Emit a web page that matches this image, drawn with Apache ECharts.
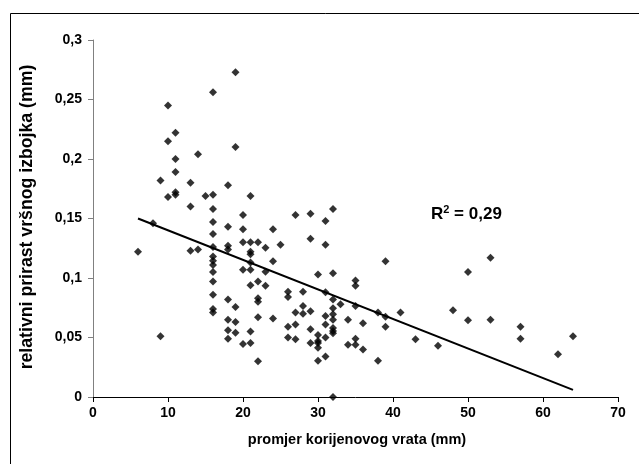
<!DOCTYPE html>
<html>
<head>
<meta charset="utf-8">
<script src="https://cdn.jsdelivr.net/npm/echarts@6/dist/echarts.min.js"></script>
<style>html,body{margin:0;padding:0;background:#fff;}#c{width:639px;height:464px;}</style>
</head>
<body>
<div id="c"></div>
<script>
const xTicks = [0, 10, 20, 30, 40, 50, 60, 70];
const yTicks = ['0', '0,05', '0,1', '0,15', '0,2', '0,25', '0,3'];
const xValues = [
  6, 8, 9, 9, 10, 10, 10,
  11, 11, 11, 11, 11,
  13, 13, 13, 14, 14, 15,
  16, 16, 16, 16, 16, 16, 16, 16, 16, 16, 16, 16, 16, 16,
  18, 18, 18, 18, 18, 18, 18, 18,
  19, 19, 19, 19, 19,
  20, 20, 20, 20, 20,
  21, 21, 21, 21, 21, 21, 21, 21, 21,
  22, 22, 22, 22, 22, 22,
  23, 23, 23,
  24, 24, 24,
  25,
  26, 26, 26, 26,
  27, 27, 27, 27,
  28, 28, 28,
  29, 29, 29, 29, 29,
  30, 30, 30, 30, 30, 30,
  31, 31, 31, 31, 31, 31, 31,
  32, 32, 32, 32, 32, 32, 32, 32, 32, 32,
  33, 34, 34,
  35, 35, 35, 35, 35,
  36, 36, 38, 38,
  39, 39, 39,
  41, 43, 46, 48, 50, 50, 53, 53, 57, 57, 62, 64
];
const yValues = [
  0.122, 0.146, 0.182, 0.051, 0.245, 0.215, 0.168,
  0.222, 0.2, 0.189, 0.172, 0.17,
  0.18, 0.16, 0.123, 0.204, 0.124, 0.169,
  0.256, 0.17, 0.158, 0.147, 0.137, 0.126, 0.118, 0.1145, 0.111, 0.105, 0.097, 0.086, 0.074, 0.071,
  0.178, 0.143, 0.127, 0.124, 0.082, 0.065, 0.056, 0.049,
  0.273, 0.21, 0.0756, 0.063, 0.054,
  0.153, 0.141, 0.13, 0.107, 0.0445,
  0.169, 0.13, 0.122, 0.12, 0.113, 0.107, 0.094, 0.055, 0.0454,
  0.13, 0.097, 0.083, 0.08, 0.067, 0.03,
  0.1255, 0.1053, 0.0935,
  0.141, 0.114, 0.066,
  0.128,
  0.0885, 0.084, 0.059, 0.05,
  0.153, 0.071, 0.061, 0.0485,
  0.0885, 0.0765, 0.07,
  0.154, 0.133, 0.072, 0.057, 0.0454,
  0.103, 0.052, 0.047, 0.0454, 0.0414, 0.0305,
  0.148, 0.128, 0.088, 0.068, 0.061, 0.05, 0.034,
  0.158, 0.104, 0.082, 0.0745, 0.0695, 0.065, 0.058, 0.0555, 0.0535, 0,
  0.078, 0.065, 0.044,
  0.098, 0.0935, 0.0765, 0.049, 0.044,
  0.062, 0.04, 0.071, 0.0305,
  0.114, 0.0675, 0.059,
  0.071, 0.0485, 0.043, 0.073, 0.105, 0.0645, 0.117, 0.065, 0.059, 0.049, 0.036, 0.051
];
const trendX = [6, 64];
const trendY = [0.150, 0.006];
const xTitle = 'promjer korijenovog vrata (mm)';
const yTitle = 'relativni prirast vršnog izbojka (mm)';

const points = xValues.map((x, i) => [x, yValues[i]]);
const trend = trendX.map((x, i) => [x, trendY[i]]);
const font = 'Liberation Sans, Arial, sans-serif';

const chart = echarts.init(document.getElementById('c'), null, {renderer: 'canvas'});
chart.setOption({
  animation: false,
  backgroundColor: '#fff',
  grid: {left: 93, right: 21, top: 40, bottom: 67, containLabel: false},
  xAxis: {
    type: 'value', min: 0, max: 70, interval: 10,
    axisLine: {show: true, lineStyle: {color: '#000', width: 1}},
    axisTick: {show: true, length: 5, lineStyle: {color: '#000'}},
    splitLine: {show: false},
    axisLabel: {
      margin: 9, color: '#000', fontFamily: font, fontWeight: 'bold', fontSize: 14,
      formatter: v => String(xTicks[Math.round(v / 10)])
    }
  },
  yAxis: {
    type: 'value', min: 0, max: 0.3, interval: 0.05,
    axisLine: {show: true, lineStyle: {color: '#808080', width: 1}},
    axisTick: {show: true, length: 5, lineStyle: {color: '#808080'}},
    splitLine: {show: false},
    axisLabel: {
      margin: 11, color: '#000', fontFamily: font, fontWeight: 'bold', fontSize: 14,
      formatter: v => yTicks[Math.round(v / 0.05)]
    }
  },
  series: [
    {
      type: 'scatter', data: points, symbol: 'diamond', symbolSize: 8,
      itemStyle: {color: '#000'}, z: 3
    },
    {
      type: 'line', data: trend, symbol: 'none',
      lineStyle: {color: '#000', width: 2}, z: 2
    }
  ],
  graphic: [
    {
      type: 'rect', left: 8, top: 11, z: -1,
      shape: {width: 700, height: 600},
      style: {fill: 'none', stroke: '#000', lineWidth: 1}
    },
    {
      type: 'text', x: 357, y: 440,
      style: {text: xTitle, font: 'bold 14.5px ' + font, fill: '#000', align: 'center', verticalAlign: 'middle'}
    },
    {
      type: 'text', x: 27, y: 217, rotation: Math.PI / 2,
      style: {text: yTitle, font: 'bold 17.7px ' + font, fill: '#000', align: 'center', verticalAlign: 'middle'}
    },
    {
      type: 'text', x: 431, y: 214,
      style: {
        text: '{a|R}{s|2}{a| = 0,29}',
        verticalAlign: 'middle',
        rich: {
          a: {font: 'bold 17px ' + font, fill: '#000', color: '#000'},
          s: {font: 'bold 11px ' + font, fill: '#000', color: '#000', verticalAlign: 'top', padding: [0, 0, 9, 0]}
        }
      }
    }
  ]
});
</script>
</body>
</html>
